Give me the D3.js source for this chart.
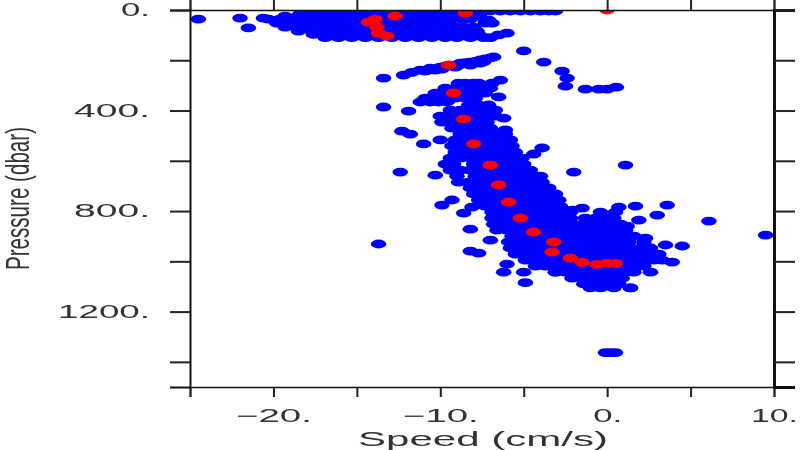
<!DOCTYPE html>
<html><head><meta charset="utf-8">
<script src="https://cdn.jsdelivr.net/npm/d3@7"></script>
<style>html,body{margin:0;padding:0;background:#fff;overflow:hidden}svg{display:block;filter:blur(0.4px)}</style>
</head><body><svg id="c" width="800" height="450"></svg>
<script>
// Each row: [pressure, [speeds...]]
const surfaceRows = [
 [4,[-17.6,-16.9,-16,-15.1,-14.3,-13.4,-12.6,-11.8,-11,-10.2,-9.4,-8.6,-7.8,-7,-6.4,-5.8,-5.2,-4.6,-4,-3.5,-3.1]],
 [14,[-18.4,-17.6,-16.8,-16,-15.2,-14.4,-13.6,-12.8,-12,-11.2,-10.4,-9.6,-8.8,-8,-7.6]],
 [24,[-19.3,-18.5,-17.7,-16.9,-16.1,-15.3,-14.5,-13.7,-12.9,-12.1,-11.3,-10.5,-9.7,-8.9,-8.1,-7.7]],
 [36,[-20.3,-19.6,-18.8,-18,-17.2,-16.4,-15.6,-14.8,-14,-13.2,-12.4,-11.6,-10.8,-10,-9.3,-8.7,-8.2]],
 [52,[-19.8,-19,-18.2,-17.4,-16.6,-15.8,-15,-14.2,-13.4,-12.6,-11.8,-11,-10.2,-9.5,-7.3,-6.9]],
 [68,[-19.3,-18.5,-17.7,-16.9,-16.1,-15.3,-14.5,-13.7,-12.9,-12.1,-11.3,-10.5,-9.7,-9.1,-8.6,-8]],
 [84,[-18.5,-17.7,-16.9,-16.1,-15.3,-14.5,-13.7,-12.9,-12.1,-11.3,-10.5,-9.7,-9,-8.3,-7.8]],
 [97,[-17.6,-16.9,-16.1,-15.3,-14.5,-13.7,-12.9,-12.1,-11.3,-10.5,-9.7,-8.9,-8.2,-7.7]],
 [110,[-16.9,-16.1,-15.3,-14.5,-13.7,-12.9,-12.1,-11.3,-10.5,-9.7,-9,-8.2,-7.4,-7]]
];
const midRows = [
 [291,[-8.9,-8.5,-8,-7.7,-6.9]],
 [311,[-9.7,-9.1,-8.5,-7.9,-7.3,-7]],
 [331,[-10.3,-9.7,-9.1,-8.5,-7.9,-7.3]],
 [351,[-10.9,-10.3,-9.7,-9.1,-8.5,-7.9]],
 [366,[-11.2,-10.6,-10.1,-9.6]]
];
const mainRows = [
 [378,[-8.3,-7.7,-7.1]],
 [398,[-9.4,-8.8,-8.2,-7.6,-7,-6.7]],
 [422,[-10,-9.4,-8.8,-8.2,-7.6,-7,-6.7]],
 [446,[-9.9,-9.4,-8.8,-8.2,-7.6,-7.2]],
 [470,[-9.3,-8.8,-8.2,-7.7,-7]],
 [493,[-8.8,-8.2,-7.6,-7,-6.4,-6.1]],
 [517,[-9.1,-8.5,-7.9,-7.3,-6.7,-6.1,-5.8]],
 [541,[-9.3,-8.7,-8.1,-7.5,-6.9,-6.3,-5.7]],
 [565,[-9.1,-8.5,-7.9,-7.3,-6.7,-6.1,-5.5]],
 [589,[-9.4,-8.8,-8.2,-7.6,-7,-6.4,-5.8,-5.1]],
 [613,[-9.7,-9.2,-8,-7.4,-6.8,-6.2,-5.6,-5]],
 [637,[-9.4,-8.8,-8.2,-7.6,-7,-6.4,-5.8,-5.2,-4.6]],
 [661,[-9,-7.9,-7.3,-6.7,-6.1,-5.5,-4.9,-4.3,-4]],
 [685,[-8.9,-8.3,-7.7,-7.1,-6.5,-5.9,-5.3,-4.7,-4.1,-3.9]],
 [708,[-8.2,-7.6,-7,-6.4,-5.8,-5.2,-4.6,-4,-3.5]],
 [732,[-8,-7.6,-7,-6.4,-5.8,-5.2,-4.6,-4,-3.4,-3.1]],
 [756,[-7.7,-7.2,-6.8,-6.2,-5.6,-5,-4.4,-3.8,-3.2,-2.9]],
 [780,[-7.3,-6.7,-6.1,-5.5,-4.9,-4.3,-3.7,-3.1,-2.8]],
 [804,[-6.9,-6.3,-5.7,-5.1,-4.5,-3.9,-3.3,-2.8,-2.2,-0.4,0.5]],
 [828,[-6.9,-6.3,-5.7,-5.1,-4.5,-3.9,-3.3,-2.7,-2.2,-1.3,-0.7,-0.1,0.4]],
 [852,[-6.8,-6.2,-5.6,-5,-4.4,-3.8,-3.2,-2.6,-2,-1.4,-0.8,-0.2,0.4,0.8]],
 [876,[-6.6,-6,-5.4,-4.8,-4.2,-3.6,-3,-2.4,-1.8,-1.2,-0.6,0,0.6,1.1]],
 [900,[-5.7,-5.1,-4.5,-3.9,-3.3,-2.7,-2.1,-1.5,-0.9,-0.3,0.3,0.9,1.6]],
 [923,[-5.9,-5.3,-4.7,-4.1,-3.5,-2.9,-2.3,-1.7,-1.1,-0.5,0.1,0.7,1.3,2.2]],
 [947,[-5.8,-5.2,-4.6,-4,-3.4,-2.8,-2.2,-1.6,-1,-0.4,0.2,0.8,1.4,2,2.6]],
 [971,[-5.5,-4.9,-4.3,-3.7,-3.1,-2.5,-1.9,-1.3,-0.7,-0.1,0.5,1.1,1.7,2.3,3.1]],
 [995,[-4.9,-4.3,-3.7,-3.1,-2.5,-1.9,-1.3,-0.7,-0.1,0.5,1.1,1.7,2.3,2.8,3.3]],
 [1019,[-4.3,-3.7,-3.1,-2.5,-1.9,-1.3,-0.7,-0.1,0.5,1.1,1.7,2.2]],
 [1043,[-3.1,-2.5,-1.9,-1.3,-0.7,-0.1,0.5,1.1,1.6]],
 [1067,[-2.1,-1.5,-0.9,-0.3,0.3,0.9]],
 [1090,[-1.4,-0.8,-0.2,0.2,0.7]],
 [1106,[-1,-0.4,0.4,1.4]]
];
const strayBlue = [
 [-24.5,36],[-22,32],[-21.5,71],[-20.6,32],[-7.3,48],[-7.1,40],[-6.5,99],[-6,92],
 [-5,163],[-3.8,207],[-2.7,243],[-2.4,271],[-2.5,303],[-1.3,315],[-0.5,315],[0,315],[0.55,307],
 [-13.4,271],[-12.2,259],[-11.7,248],[-11.2,239],[-10.9,243],[-10.6,231],[-10,227],[-9.9,235],[-9.4,219],[-9.7,223],[-8.8,211],[-8.9,219],[-8.5,209],[-8.2,207],[-7.9,205],[-7.6,199],[-7.3,195],[-7,191],[-6.8,187],
 [-10.3,239],[-9.1,227],[-8.2,219],[-7.6,211],[-7.4,205],[-6.4,279],[-6.5,346],
 [-13.4,386],[-11.9,402],[-6.2,430],[-6.1,477],[-12.3,482],[-11.8,494],[-11,533],[-10,517],
 [-12.4,645],[-10.3,657],[-2,645],[-3.9,549],[-4.4,573],[1.1,617],
 [-9.3,756],[-9.9,776],[-8.6,808],[-8.1,784],[-8.2,872],[-7,916],[-8.2,959],[-7.7,967],
 [-6,1011],[-6.2,1043],[-5,1043],[-4.9,1085],[-3.1,1043],[2.6,1043],
 [3.9,1003],[4.5,939],[3.5,935],[3.6,776],[3,816],[1.7,780],[0.7,784],[-1.5,788],[-2.1,796],[1.9,836],[1.2,860],[2.3,908],
 [1.4,1106],[6.1,840],[9.5,896],[-13.7,931],
 [-0.1,1363],[0.2,1363],[0.5,1363]
];
const redSpeed = [0,-8.5,-12.7,-13.9,-14.3,-13.8,-13.7,-13.2,-9.5,-9.2,-8.6,-8,-7,-6.5,-5.9,-5.2,-4.4,-3.2,-3.3,-2.2,-1.5,-0.6,0,0.5];
const redPressure = [0,12,24,36,48,68,92,104,219,330,434,533,617,696,764,828,884,923,963,987,1004,1012,1008,1008];

const xTicks = [-25,-20,-15,-10,-5,0,5,10];
const yTicks = [0,200,400,600,800,1000,1200,1400];
const xLabelled = [-20,-10,0,10];
const yLabelled = [0,400,800,1200];

const svg = d3.select("#c");
const x = d3.scaleLinear().domain([-25,10]).range([190,774]);
const y = d3.scaleLinear().domain([0,1500]).range([10,387]);

const flat = rows => rows.flatMap(([p,ss]) => ss.map(s => [s,p]));
const blue = flat(surfaceRows).concat(flat(midRows), flat(mainRows), strayBlue);
const red = redSpeed.map((s,i) => [s,redPressure[i]]);

svg.append("clipPath").attr("id","plot").append("rect")
  .attr("x",190).attr("y",10).attr("width",584).attr("height",377);
const g = svg.append("g").attr("clip-path","url(#plot)");
const dots = (data,col) => g.append("g").selectAll("ellipse").data(data).join("ellipse")
  .attr("cx",d=>x(d[0])).attr("cy",d=>y(d[1])).attr("rx",7.8).attr("ry",4.4).attr("fill",col);
dots(blue,"#0000ff");
dots(red,"#ff0000");

const fmt = v => (v<0?"\u2212":"")+Math.abs(v)+".";
const xf = v => xLabelled.includes(v)?fmt(v):"";
const yf = v => yLabelled.includes(v)?fmt(v):"";
function style(a,w){
  a.select(".domain").attr("stroke","#111").attr("stroke-width",w);
  a.selectAll(".tick line").attr("stroke","#222").attr("stroke-width",2);
  a.selectAll("text").attr("fill","#333").attr("font-family","Liberation Sans").attr("font-size",18);
}
const bottom = svg.append("g").attr("transform","translate(0,387)")
  .call(d3.axisBottom(x).tickValues(xTicks).tickSizeOuter(0).tickSize(10).tickPadding(11).tickFormat(xf));
const top_ = svg.append("g").attr("transform","translate(0,10)")
  .call(d3.axisTop(x).tickValues(xTicks).tickSizeOuter(0).tickSize(10).tickFormat(""));
const left = svg.append("g").attr("transform","translate(190,0)")
  .call(d3.axisLeft(y).tickValues(yTicks).tickSizeOuter(0).tickSize(20).tickPadding(20).tickFormat(yf));
const right = svg.append("g").attr("transform","translate(774,0)")
  .call(d3.axisRight(y).tickValues(yTicks).tickSizeOuter(0).tickSize(21).tickFormat(""));
style(bottom,1.6);style(top_,1.6);style(left,2);style(right,3);
const widen = function(){
  const s=this.textContent; if(!s) return;
  const n=s.length;
  d3.select(this).attr("textLength",n===2?29:n===3?47:n===4?76:92).attr("lengthAdjust","spacingAndGlyphs");
};
bottom.selectAll("text").each(widen).attr("dy",null).attr("y",35);
left.selectAll("text").each(widen);

svg.append("text").text("Speed (cm/s)").attr("x",358).attr("y",446)
  .attr("textLength",250).attr("lengthAdjust","spacingAndGlyphs")
  .attr("font-family","Liberation Sans").attr("font-size",20).attr("fill","#333");
svg.append("text").text("Pressure (dbar)")
  .attr("transform","translate(29,270) rotate(-90)")
  .attr("textLength",143).attr("lengthAdjust","spacingAndGlyphs")
  .attr("font-family","Liberation Sans").attr("font-size",33).attr("fill","#333");
</script></body></html>
